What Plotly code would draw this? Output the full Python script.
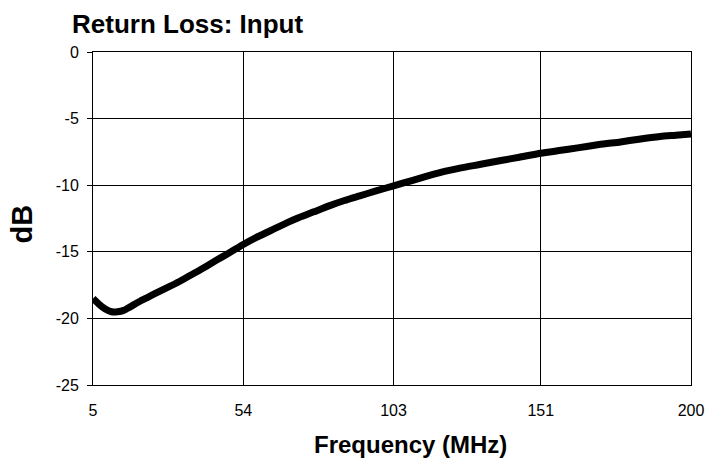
import plotly.graph_objects as go

freq_mhz = [5, 7, 9, 11, 13, 15, 17, 20, 23, 26, 30, 33, 36.5, 40, 44, 47, 50, 54,
            58, 63, 68, 72, 77, 82, 87, 92, 97, 103, 109, 115, 120, 125, 131, 138,
            144, 151, 157, 163, 170, 177, 183, 190, 195, 200]
return_loss_db = [-18.5, -18.95, -19.3, -19.5, -19.5, -19.4, -19.15, -18.75, -18.4,
                  -18.05, -17.6, -17.25, -16.8, -16.35, -15.8, -15.4, -15.0,
                  -14.45, -13.95, -13.4, -12.85, -12.45, -12.0, -11.55, -11.15,
                  -10.8, -10.45, -10.05, -9.65, -9.25, -8.95, -8.7, -8.45, -8.15,
                  -7.9, -7.6, -7.4, -7.2, -6.95, -6.75, -6.55, -6.35, -6.25, -6.15]

x_tick_vals = [5, 54, 103, 151, 200]
x_tick_text = ["5", "54", "103", "151", "200"]
y_tick_vals = [0, -5, -10, -15, -20, -25]
y_tick_text = ["0", "-5", "-10", "-15", "-20", "-25"]

FONT = "Liberation Sans, Arial, sans-serif"
W, H = 707, 460

fig = go.Figure()
fig.add_trace(go.Scatter(
    x=freq_mhz, y=return_loss_db, mode="lines",
    line=dict(color="black", width=7, shape="spline", smoothing=0.6),
    showlegend=False, hoverinfo="skip",
))

fig.update_layout(
    width=W, height=H,
    margin=dict(l=93, r=16, t=52, b=75, pad=0, autoexpand=False),
    paper_bgcolor="white", plot_bgcolor="white",
    font=dict(family=FONT, color="black"),
    title=dict(text="<b>Return Loss: Input</b>", font=dict(size=26, family=FONT, color="black"),
               x=72 / W, xanchor="left", xref="container",
               y=1 - 23.5 / H, yanchor="middle", yref="container"),
    xaxis=dict(range=[5, 200], tickvals=x_tick_vals, ticktext=x_tick_text,
               showgrid=True, gridcolor="black", gridwidth=1,
               showline=True, linecolor="black", linewidth=1, mirror=True,
               ticks="", tickfont=dict(size=16, family=FONT, color="black"),
               ticklabelstandoff=11, automargin=False,
               zeroline=False, fixedrange=True),
    yaxis=dict(range=[-25, 0], tickvals=y_tick_vals, ticktext=y_tick_text,
               showgrid=True, gridcolor="black", gridwidth=1,
               showline=True, linecolor="black", linewidth=1, mirror=True,
               ticks="outside", ticklen=5, tickcolor="black", tickwidth=1,
               ticklabelstandoff=5, automargin=False,
               tickfont=dict(size=16, family=FONT, color="black"),
               zeroline=False, fixedrange=True),
    annotations=[
        dict(text="<b>dB</b>", textangle=-90, xref="paper", yref="paper",
             x=(21.5 - 93) / 598, y=(385 - 224) / 333, xanchor="center", yanchor="middle",
             showarrow=False, font=dict(size=29, family=FONT, color="black")),
        dict(text="<b>Frequency (MHz)</b>", xref="paper", yref="paper",
             x=(410 - 93) / 598, y=(385 - 444) / 333, xanchor="center", yanchor="middle",
             showarrow=False, font=dict(size=24, family=FONT, color="black")),
    ],
)

fig.write_html(
    "out.html",
    config={"displayModeBar": False},
    post_script="document.body.style.margin='0px';document.body.style.overflow='hidden';",
)
